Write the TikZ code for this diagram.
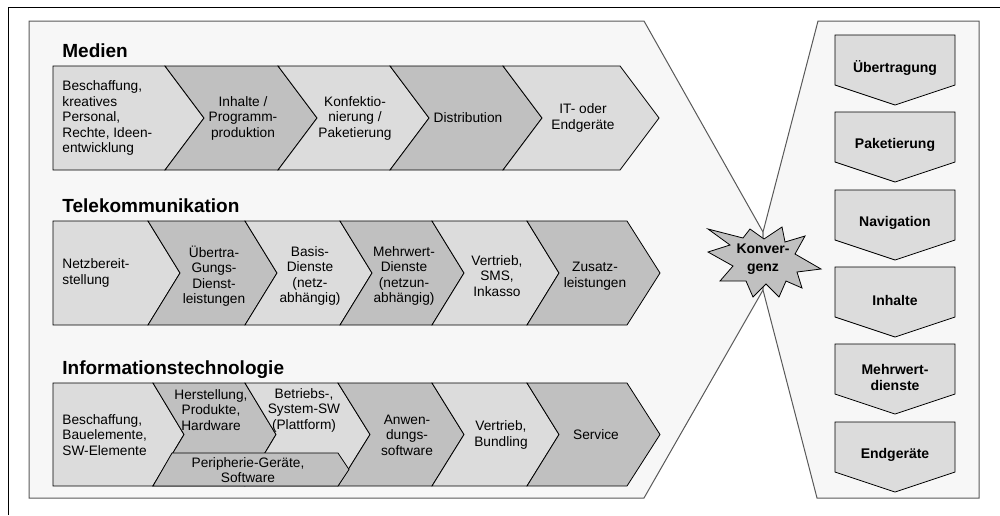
\documentclass[tikz,border=0pt]{standalone}
\usepackage{fontspec}
\setmainfont{Liberation Sans}
\definecolor{hell}{HTML}{DCDCDC}
\definecolor{dunkel}{HTML}{C0C0C0}
\definecolor{grund}{HTML}{F7F7F7}
% chevron: fill, x left, x right, y top, y bottom, notch depth, tip depth
\def\C#1#2#3#4#5#6#7{\filldraw[fill=#1] (#2,#4) -- (#3,#4) -- ({#3+#7},{(#4+#5)/2}) -- (#3,#5) -- (#2,#5) -- ({#2+#6},{(#4+#5)/2}) -- cycle;}
% box pointing down, right column
\def\P#1{\filldraw[fill=hell] (835,#1) -- (955,#1) -- (955,{#1+50}) -- (895,{#1+70}) -- (835,{#1+50}) -- cycle;}

\begin{document}
\begin{tikzpicture}[%
      x=1pt, y=-1pt, line width=0.8pt, line join=miter,
      every node/.style={inner sep=0pt},
      txt/.style={align=center, font=\fontsize{13.7}{15.5}\selectfont},
      ltxt/.style={txt, align=left, anchor=west},
      ttl/.style={anchor=base west, font=\bfseries\fontsize{19}{22}\selectfont},
      btxt/.style={align=center, font=\bfseries\fontsize{14}{16}\selectfont}
    ]
    \useasboundingbox (0,0) rectangle (1000,515);
    \draw[line width=1pt] (8,515) -- (8,7) -- (1000,7);
    % panels
    \filldraw[fill=grund, draw=black!65, line width=1pt] (29,21) -- (644,21) -- (763,232) -- (763,290) -- (644,498) -- (29,498) -- cycle;
    \filldraw[fill=grund, draw=black!65, line width=1pt] (818,21) -- (979,21) -- (979,498) -- (817,498) -- (763,290) -- (763,232) -- cycle;
    % Medien
    \node [ttl] (mt) at (62,57) {Medien};
    \C{hell}{53}{165}{66}{170}{0}{39}
    \C{dunkel}{165}{278}{66}{170}{39}{39}
    \C{hell}{278}{390}{66}{170}{39}{39}
    \C{dunkel}{390}{503}{66}{170}{39}{39}
    \C{hell}{503}{620}{66}{170}{39}{39}
    \node [ltxt] (m0) at (62,118) {Beschaffung,\\kreatives\\Personal,\\Rechte, Ideen-\\entwicklung};
    \node [txt] (m1) at (243,118) {Inhalte /\\Programm-\\produktion};
    \node [txt] (m2) at (355,118) {Konfektio-\\nierung /\\Paketierung};
    \node [txt] (m3) at (468,118) {Distribution};
    \node [txt] (m4) at (583,118) {IT- oder\\Endgeräte};
    % Telekommunikation
    \node [ttl] (tt) at (62,212) {Telekommunikation};
    \C{hell}{53}{148}{221}{325}{0}{32}
    \C{dunkel}{148}{245}{221}{325}{32}{32}
    \C{hell}{245}{340}{221}{325}{32}{32}
    \C{dunkel}{340}{432}{221}{325}{32}{32}
    \C{hell}{432}{527}{221}{325}{32}{32}
    \C{dunkel}{527}{627}{221}{325}{32}{33}
    \node [ltxt] (t0) at (62,273) {Netzbereit-\\stellung};
    \node [txt] (t1) at (214,276) {Übertra-\\Gungs-\\Dienst-\\leistungen};
    \node [txt] (t2) at (310,276) {Basis-\\Dienste\\(netz-\\abhängig)};
    \node [txt] (t3) at (404,276) {Mehrwert-\\Dienste\\(netzun-\\abhängig)};
    \node [txt] (t4) at (497,276) {Vertrieb,\\SMS,\\Inkasso};
    \node [txt] (t5) at (595,276) {Zusatz-\\leistungen};
    % Informationstechnologie
    \node [ttl] (it) at (62,374) {Informationstechnologie};
    \C{hell}{53}{153}{383}{486}{0}{31}
    \C{dunkel}{153}{245}{383}{486}{31}{31}
    \C{hell}{245}{338}{383}{486}{31}{32}
    \C{dunkel}{338}{432}{383}{486}{32}{32}
    \C{hell}{432}{527}{383}{486}{32}{32}
    \C{dunkel}{527}{627}{383}{486}{32}{33}
    \filldraw[fill=dunkel] (172,453) -- (338,453) -- (349,469.5) -- (338,486) -- (153,486) -- cycle;
    \node [ltxt] (i0) at (62,435) {Beschaffung,\\Bauelemente,\\SW-Elemente};
    \node [txt] (i1) at (211,410) {Herstellung,\\Produkte,\\Hardware};
    \node [txt] (i2) at (304,410) {Betriebs-,\\System-SW\\(Plattform)};
    \node [txt] (i3) at (248,470) {Peripherie-Geräte,\\Software};
    \node [txt] (i4) at (407,435) {Anwen-\\dungs-\\software};
    \node [txt] (i5) at (501,435) {Vertrieb,\\Bundling};
    \node [txt] (i6) at (596,435) {Service};
    % Konvergenz
    \filldraw[fill=dunkel] (708,252) -- (730,245) -- (708,229) -- (743,238) -- (750,229)
      -- (764,239) -- (782,227) -- (785,242) -- (805,236) -- (795,254) -- (821,269)
      -- (797,272) -- (802,288) -- (786,281) -- (779,297) -- (766,284) -- (753,297)
      -- (746,281) -- (720,281) -- (733,266) -- cycle;
    \node [btxt, font=\bfseries\fontsize{14}{18}\selectfont] (k) at (763,259) {Konver-\\genz};
    % right column
    \foreach \y in {35,112,190,267,344,422} {\P{\y}}
    \node [btxt] (r0) at (895,68) {Übertragung};
    \node [btxt] (r1) at (895,145) {Paketierung};
    \node [btxt] (r2) at (895,223) {Navigation};
    \node [btxt] (r3) at (895,300) {Inhalte};
    \node [btxt] (r4) at (895,377) {Mehrwert-\\dienste};
    \node [btxt] (r5) at (895,455) {Endgeräte};
\end{tikzpicture}
\end{document}
